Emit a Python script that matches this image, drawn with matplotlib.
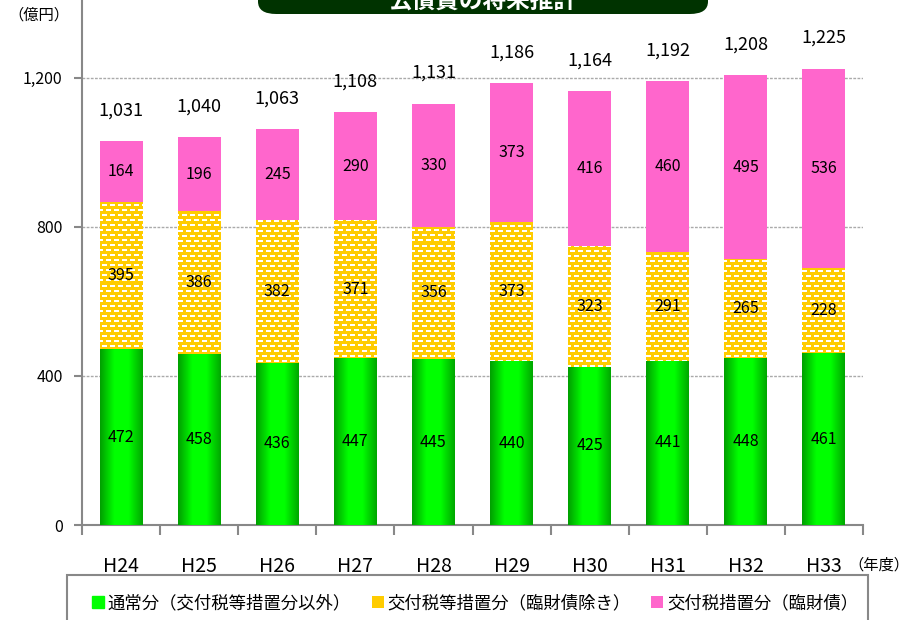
import numpy as np
import matplotlib
matplotlib.use('Agg')
import matplotlib.pyplot as plt
from matplotlib.patches import FancyBboxPatch, Rectangle
from matplotlib.colors import LinearSegmentedColormap
from matplotlib.ticker import FuncFormatter, FixedLocator

plt.rcParams['font.family'] = ['Noto Sans CJK JP', 'DejaVu Sans']

years = ['H24', 'H25', 'H26', 'H27', 'H28', 'H29', 'H30', 'H31', 'H32', 'H33']
regular = [472, 458, 436, 447, 445, 440, 425, 441, 448, 461]
kofuzei = [395, 386, 382, 371, 356, 373, 323, 291, 265, 228]
rinzai = [164, 196, 245, 290, 330, 373, 416, 460, 495, 536]
totals = [1031, 1040, 1063, 1108, 1131, 1186, 1164, 1192, 1208, 1225]
series_names = ['通常分（交付税等措置分以外）', '交付税等措置分（臨財債除き）', '交付税措置分（臨財債）']
yticks = [0, 400, 800, 1200]

GREEN = '#00E600'
YELLOW = '#FFCC00'
PINK = '#FF66CC'

fig = plt.figure(figsize=(9.12, 6.2), dpi=100)
ax = fig.add_axes([82/912, 1-525/620, (863-82)/912, 525/620])
ymax = 1409
ax.set_xlim(-0.5, len(years)-0.5)
ax.set_ylim(0, ymax)

x = np.arange(len(years))
w = 0.55
b1 = ax.bar(x, regular, w, color=GREEN, zorder=3, label=series_names[0])
bottom2 = np.array(regular)
b2 = ax.bar(x, kofuzei, w, bottom=bottom2, color=YELLOW, zorder=3, label=series_names[1])
bottom3 = bottom2 + np.array(kofuzei)
b3 = ax.bar(x, rinzai, w, bottom=bottom3, color=PINK, zorder=3, label=series_names[2])

# green horizontal gradient
gcmap = LinearSegmentedColormap.from_list('g', ['#00A000', '#00FF00', '#00FF00', '#00A800'])
grad = np.linspace(0, 1, 64).reshape(1, -1)
for r in b1:
    im = ax.imshow(grad, cmap=gcmap, aspect='auto', zorder=3.5,
                   extent=(r.get_x(), r.get_x()+r.get_width(), r.get_y(), r.get_y()+r.get_height()))
    im.set_clip_path(r)

# yellow dash texture
Wp, Hp = 781, 525
tex = np.zeros((Hp, Wp, 4))
tex[..., :3] = 1.0
yy, xx = np.mgrid[0:Hp, 0:Wp]
row = yy // 5
inrow = (yy % 5) < 2
shift = (row % 2) * 4
dash = ((xx + shift) % 8) < 5
tex[..., 3] = (inrow & dash).astype(float)
for r in b2:
    im = ax.imshow(tex, aspect='auto', zorder=3.5, interpolation='nearest',
                   extent=(-0.5, len(years)-0.5, 0, ymax))
    im.set_clip_path(r)

# segment labels
for i in range(len(years)):
    ax.text(x[i], regular[i]/2, str(regular[i]), ha='center', va='center', fontsize=11.5, zorder=5)
    ax.text(x[i], bottom2[i] + kofuzei[i]/2, str(kofuzei[i]), ha='center', va='center', fontsize=11.5, zorder=5)
    ax.text(x[i], bottom3[i] + rinzai[i]/2, str(rinzai[i]), ha='center', va='center', fontsize=11.5, zorder=5)
    ax.annotate(f'{totals[i]:,}', (x[i], totals[i]), xytext=(0, 22), textcoords='offset points',
                ha='center', va='center', fontsize=13, zorder=5)

# axes styling
for s in ['top', 'right']:
    ax.spines[s].set_visible(False)
ax.spines['left'].set_color('#888888')
ax.spines['bottom'].set_color('#888888')
ax.spines['left'].set_linewidth(1.5)
ax.spines['bottom'].set_linewidth(1.5)
ax.set_yticks(yticks)
ax.yaxis.set_major_formatter(FuncFormatter(lambda v, p: f'{int(v):,}'))
ax.tick_params(axis='y', length=6, width=1.5, color='#888888', labelsize=11.5, pad=8)
ax.set_xticks(x)
ax.set_xticklabels(years, fontsize=14)
ax.tick_params(axis='x', length=0, pad=22)
ax.xaxis.set_minor_locator(FixedLocator(np.arange(-0.5, len(years), 1.0)))
ax.tick_params(axis='x', which='minor', length=7, width=1.5, color='#888888')
for yv in yticks[1:]:
    ax.axhline(yv, color='#AAAAAA', lw=1, ls=(0, (2, 1)), zorder=1)

# title box (cut off at top of the picture, as in the reference)
tb = FancyBboxPatch((258/912, 1-14/620), (708-258)/912, 0.1,
                    boxstyle='round,pad=0,rounding_size=0.02', transform=fig.transFigure,
                    facecolor='#003300', edgecolor='none', zorder=10)
fig.patches.append(tb)
fig.text(483/912, 1-8/620, '公債費の将来推計', ha='center', va='baseline', color='white',
         fontsize=17, fontweight='bold', zorder=11)

fig.text(8/912, 1-15/620, '（億円）', ha='left', va='center', fontsize=11)
fig.text(909/912, 1-565/620, '（年度）', ha='right', va='center', fontsize=11)

# legend frame (cut off at bottom)
lf = Rectangle((67/912, -0.05), (868-67)/912, 0.05 + (620-575)/620, transform=fig.transFigure,
               facecolor='white', edgecolor='#888888', lw=1.5)
fig.patches.append(lf)
leg = fig.legend(handles=[b1, b2, b3], loc='center', bbox_to_anchor=(475/912, 1-603/620),
                 ncol=3, frameon=False, fontsize=12.5, handlelength=0.7, handleheight=0.7,
                 handletextpad=0.2, columnspacing=1.2)
leg.legend_handles[0].set_color('#00FF00')

fig.savefig('out.png', dpi=100)
